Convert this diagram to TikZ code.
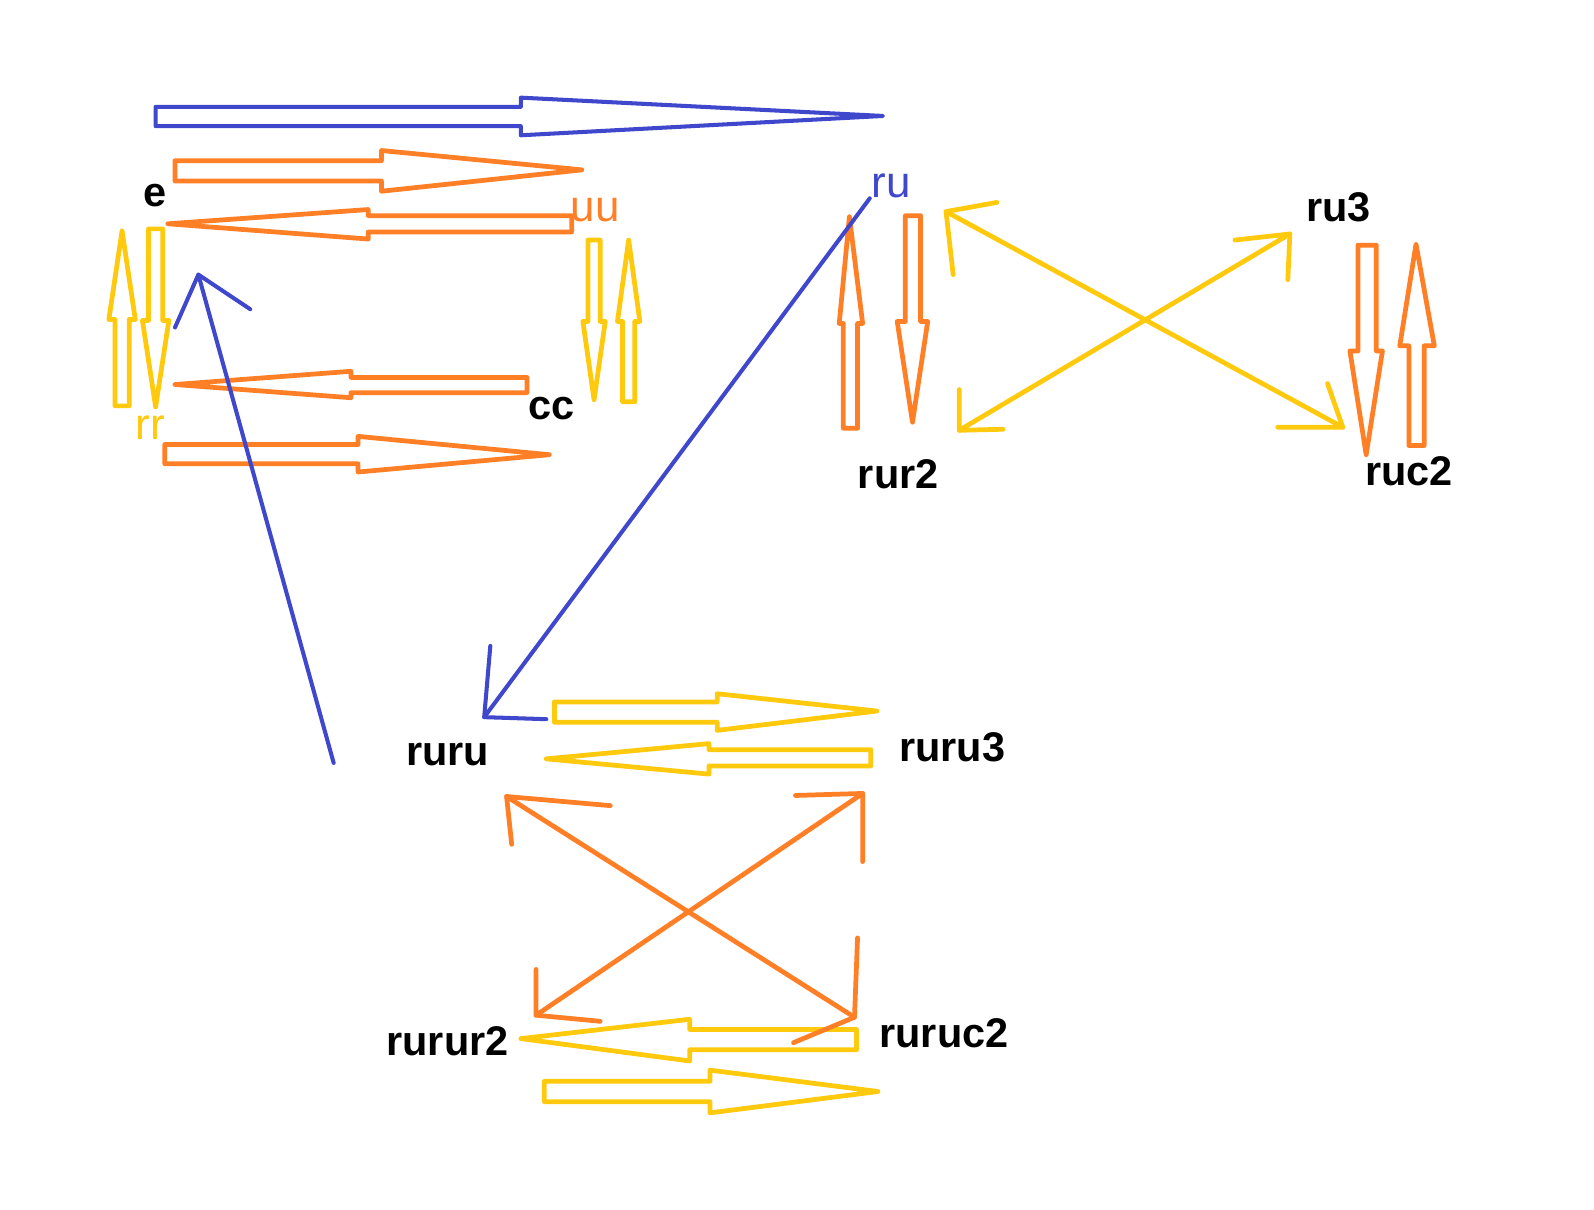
\documentclass[tikz,border=0pt]{standalone}
\usepackage{fontspec}
\setmainfont{Liberation Sans}
\definecolor{pblue}{HTML}{3F48CC}
\definecolor{porange}{HTML}{FF7F27}
\definecolor{pyellow}{HTML}{FFC90E}
\begin{document}
\begin{tikzpicture}[x=0.010173cm, y=-0.010173cm, line join=round, line cap=round,
    bl/.style={draw=pblue, line width=1.15pt},
    og/.style={draw=porange, line width=1.35pt},
    yw/.style={draw=pyellow, line width=1.35pt},
    lbl/.style={font=\bfseries\fontsize{11.8}{14}\selectfont, inner sep=0pt},
    lbt/.style={font=\fontsize{12.5}{14}\selectfont, inner sep=0pt}]
    \useasboundingbox[fill=white] (0,0) rectangle (1567,1189.4);

    % first group
    \draw[bl] (153,105)--(512,105)--(512,96)--(868,114)--(512,133)--(512,124)--(153,124)--cycle;
    \draw[og] (172,158)--(375,158)--(375,148)--(572,167)--(375,188)--(375,178)--(172,178)--cycle;
    \draw[og] (165,220)--(362,206)--(362,212)--(562,212)--(562,228)--(362,228)--(362,235)--cycle;
    \draw[yw] (120,227)--(133,314)--(127,314)--(127,399)--(113,399)--(113,314)--(107,314)--cycle;
    \draw[yw] (146,225)--(160,225)--(160,315)--(166,315)--(153,400)--(140,315)--(146,315)--cycle;
    \draw[og] (172,378)--(345,365)--(345,371)--(518,371)--(518,386)--(345,386)--(345,391)--cycle;
    \draw[og] (162,437)--(352,437)--(352,429)--(540,447)--(352,464)--(352,456)--(162,456)--cycle;
    \draw[yw] (578,236)--(590,236)--(590,316)--(595,316)--(584,393)--(573,316)--(578,316)--cycle;
    \draw[yw] (618,236)--(629,316)--(624,316)--(624,395)--(612,395)--(612,316)--(607,316)--cycle;

    \node[lbl] (e) at (152,192) {e};
    \node[lbt, text=porange] (uu) at (585,207) {uu};
    \node[lbt, text=pyellow] (rr) at (148,420) {rr};
    \node[lbl] (cc) at (542,402) {cc};

    % second group
    \draw[og] (835,213)--(848,318)--(843,318)--(843,421)--(829,421)--(829,318)--(825,318)--cycle;
    \draw[og] (890,212)--(905,212)--(905,316)--(912,316)--(897,415)--(882,316)--(890,316)--cycle;
    \draw[og] (1335,241)--(1353,241)--(1353,345)--(1359,345)--(1343,447)--(1327,345)--(1335,345)--cycle;
    \draw[og] (1392,240)--(1410,340)--(1400,340)--(1400,438)--(1385,438)--(1385,340)--(1376,340)--cycle;

    \draw[yw] (930,208)--(1320,420);
    \draw[yw] (980,199)--(930,208)--(937,270);
    \draw[yw] (1256,420)--(1320,420)--(1305,377);
    \draw[yw] (943,423)--(1268,230);
    \draw[yw] (943,383)--(943,423)--(986,422);
    \draw[yw] (1214,236)--(1268,230)--(1266,275);

    \node[lbt, text=pblue] (ru) at (876,183) {ru};
    \node[lbl] (ru3) at (1316,204) {ru3};
    \node[lbl] (rur2) at (883,466) {rur2};
    \node[lbl] (ruc2) at (1385,463) {ruc2};

    % third group
    \draw[yw] (545,690)--(705,690)--(705,682)--(862,699)--(705,718)--(705,710)--(545,710)--cycle;
    \draw[yw] (537,746)--(697,731)--(697,737)--(856,737)--(856,753)--(697,753)--(697,761)--cycle;
    \draw[yw] (512,1021)--(678,1002)--(678,1012)--(842,1012)--(842,1032)--(678,1032)--(678,1043)--cycle;
    \draw[yw] (535,1063)--(698,1063)--(698,1052)--(863,1073)--(698,1094)--(698,1083)--(535,1083)--cycle;

    \draw[og] (498,783)--(840,1000);
    \draw[og] (600,792)--(498,783)--(503,830);
    \draw[og] (843,922)--(840,1000)--(780,1025);
    \draw[og] (527,998)--(848,780);
    \draw[og] (527,953)--(527,998)--(590,1004);
    \draw[og] (782,782)--(848,780)--(848,847);

    \node[lbl] (ruru) at (440,742) {ruru};
    \node[lbl] (ruru3) at (936,735) {ruru3};
    \node[lbl] (rurur2) at (440,1024) {rurur2};
    \node[lbl] (ruruc2) at (928,1016) {ruruc2};

    % blue links
    \draw[bl] (328,750)--(195,270);
    \draw[bl] (172,322)--(195,270)--(246,304);
    \draw[bl] (855,195)--(476,705);
    \draw[bl] (482,635)--(476,705)--(537,707);
\end{tikzpicture}
\end{document}
